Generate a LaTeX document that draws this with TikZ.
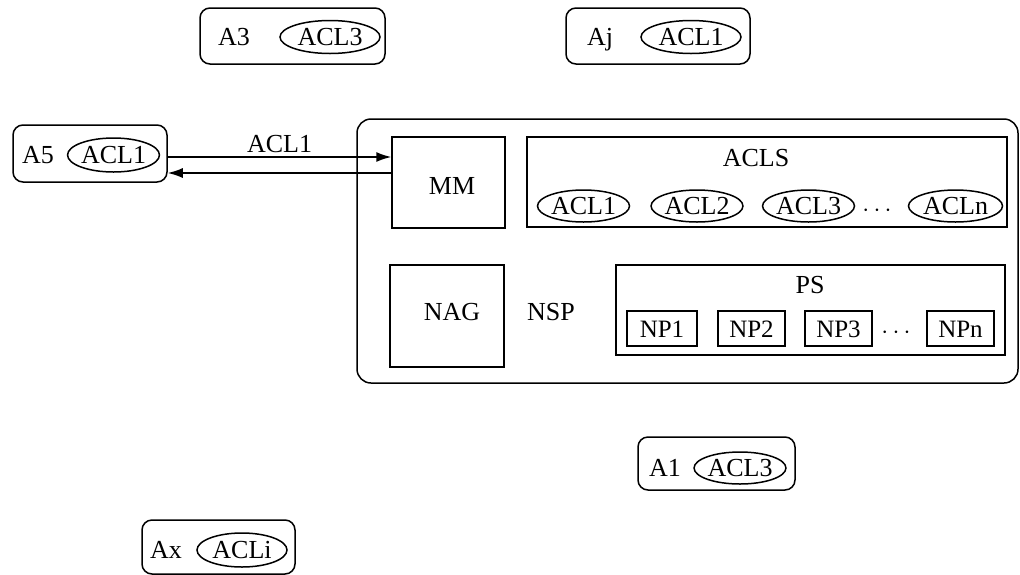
\documentclass[tikz,border=0pt]{standalone}
\usepackage{fontspec}
\setmainfont{Liberation Serif}
\usetikzlibrary{shapes.geometric,arrows.meta}

\tikzset{
  txt/.style={font=\fontsize{26}{30}\selectfont, inner sep=0pt,
              text height=17pt, text depth=0pt},
  agentbox/.style={draw, line width=1.5pt, rounded corners=10pt, inner sep=0pt},
  aclell/.style={draw, ellipse, line width=1.5pt, inner sep=0pt,
                 font=\fontsize{26}{30}\selectfont,
                 text height=17pt, text depth=0pt},
  modbox/.style={draw, line width=1.5pt, inner sep=0pt},
  npbox/.style={draw, line width=1.5pt, inner sep=0pt,
                minimum width=68pt, minimum height=35pt,
                font=\fontsize{25}{30}\selectfont,
                text height=17pt, text depth=0pt},
  link/.style={line width=1.5pt, -{Latex[length=15pt,width=10pt]}},
}

\begin{document}
\begin{tikzpicture}[x=1pt,y=-1pt]
  \useasboundingbox (0,0) rectangle (1020,574);

  % ---- agents outside the platform ----
  % A3
  \node[agentbox, minimum width=185pt, minimum height=56pt] (a3) at (292.5,36) {};
  \node[txt] (a3t) at (234,37) {A3};
  \node[aclell, minimum width=100pt, minimum height=33pt] (a3e) at (330,37) {ACL3};
  % Aj
  \node[agentbox, minimum width=184pt, minimum height=56pt] (aj) at (658,36) {};
  \node[txt] (ajt) at (600,37) {Aj};
  \node[aclell, minimum width=100pt, minimum height=33pt] (aje) at (691,37) {ACL1};
  % A5
  \node[agentbox, minimum width=154pt, minimum height=57pt] (a5) at (90,153.5) {};
  \node[txt] (a5t) at (38,155) {A5};
  \node[aclell, minimum width=86pt, minimum height=34pt] (a5e) at (113.5,155) {ACL1};
  % A1
  \node[agentbox, minimum width=157pt, minimum height=53pt] (a1) at (716.5,463.5) {};
  \node[txt] (a1t) at (665,468) {A1};
  \node[aclell, minimum width=90pt, minimum height=32pt] (a1e) at (740,468) {ACL3};
  % Ax
  \node[agentbox, minimum width=153pt, minimum height=54pt] (ax) at (218.5,547) {};
  \node[txt] (axt) at (166,550) {Ax};
  \node[aclell, minimum width=90pt, minimum height=34pt] (axe) at (242,550) {ACLi};

  % ---- the platform ----
  \node[draw, line width=1.5pt, rounded corners=14pt,
        minimum width=661pt, minimum height=264pt] (nsp) at (687.5,251) {};
  \node[txt] (nspt) at (551,312) {NSP};

  \node[modbox, minimum width=113pt, minimum height=91pt] (mm) at (448.5,182.5) {};
  \node[txt] (mmt) at (452,186) {MM};

  \node[modbox, minimum width=114pt, minimum height=102pt] (nag) at (447,316) {};
  \node[txt] (nagt) at (452,312) {NAG};

  % ACL store
  \node[modbox, minimum width=480pt, minimum height=90pt] (acls) at (767,182) {};
  \node[txt] (aclst) at (756,158) {ACLS};
  \node[aclell, minimum width=92pt, minimum height=32pt] (acl1) at (583.5,206) {ACL1};
  \node[aclell, minimum width=90pt, minimum height=32pt] (acl2) at (697,206) {ACL2};
  \node[aclell, minimum width=88pt, minimum height=32pt] (acl3) at (808.5,206) {ACL3};
  \node[txt] (adots) at (877,208) {$\cdots$};
  \node[aclell, minimum width=94pt, minimum height=32pt] (acln) at (955.5,206) {ACLn};

  % protocol store
  \node[modbox, minimum width=389pt, minimum height=90pt] (ps) at (810.5,310) {};
  \node[txt] (pst) at (810,285) {PS};
  \node[npbox, minimum width=70pt] (np1) at (662,328.5) {NP1};
  \node[npbox, minimum width=67pt] (np2) at (751.5,328.5) {NP2};
  \node[npbox, minimum width=67pt] (np3) at (838.5,328.5) {NP3};
  \node[txt] (pdots) at (896,330) {$\cdots$};
  \node[npbox, minimum width=67pt] (npn) at (960.5,328.5) {NPn};

  % ---- message exchange between A5 and MM ----
  \draw[link] (a5.east |- 0,157) -- (mm.west |- 0,157)
    node[midway, above=4pt, txt] (msg) {ACL1};
  \draw[link] (mm.west |- 0,173) -- (a5.east |- 0,173);
\end{tikzpicture}
\end{document}
